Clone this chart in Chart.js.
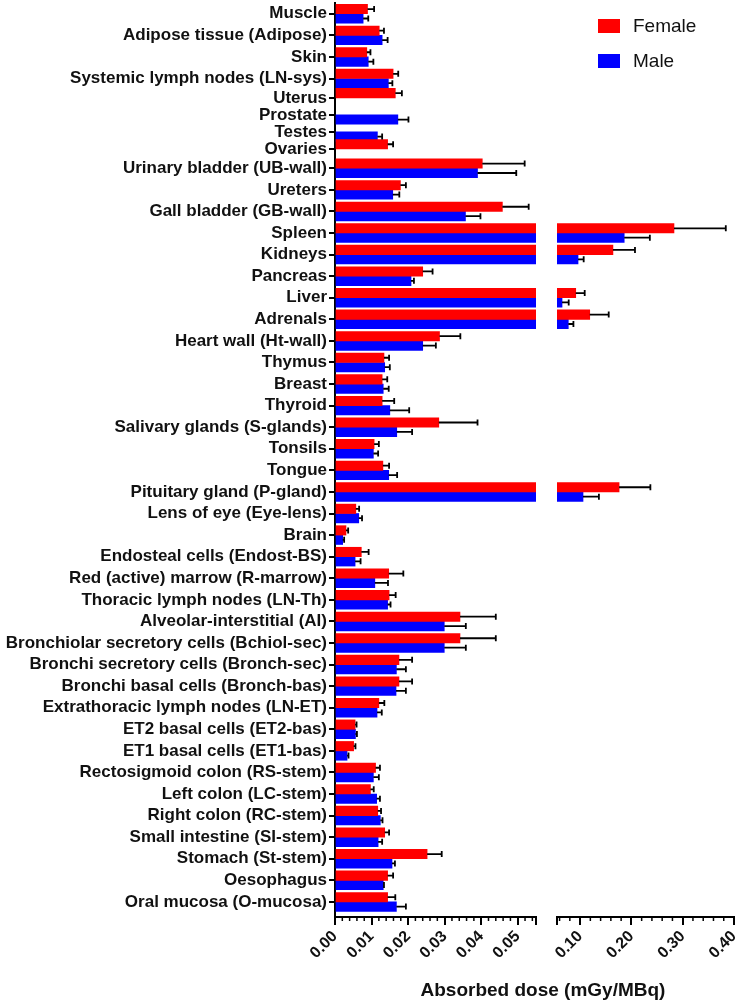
<!DOCTYPE html>
<html>
<head>
<meta charset="utf-8">
<script src="https://cdn.jsdelivr.net/npm/chart.js@4.4.1/dist/chart.umd.min.js"></script>
<style>
  body { margin: 0; background: #fff; font-family: "Liberation Sans", Arial, sans-serif; }
  #wrap { position: relative; width: 740px; height: 1001px; overflow: hidden; }
  #left { position: absolute; left: 0; top: 0; }
  #right { position: absolute; left: 551px; top: 0; }
  .sw { position: absolute; width: 22px; height: 14px; }
  .lg { position: absolute; font-size: 19px; line-height: 20px; color: #111; }
  #xtitle { position: absolute; left: 543px; top: 979px; transform: translateX(-50%);
            font-size: 19px; font-weight: bold; white-space: nowrap; color: #111; }
</style>
</head>
<body>
<div id="wrap">
  <canvas id="left" width="542" height="1001"></canvas>
  <canvas id="right" width="189" height="1001"></canvas>
  <div class="sw" style="left:598px;top:19px;background:#ff0000"></div>
  <div class="lg" id="lg0" style="left:633px;top:16px"></div>
  <div class="sw" style="left:598px;top:54px;background:#0000ff"></div>
  <div class="lg" id="lg1" style="left:633px;top:51px"></div>
  <div id="xtitle"></div>
</div>
<script>
// organ list, top to bottom
const categories = [
  'Muscle', 'Adipose tissue (Adipose)', 'Skin', 'Systemic lymph nodes (LN-sys)',
  'Uterus', 'Prostate', 'Testes', 'Ovaries',
  'Urinary bladder (UB-wall)', 'Ureters', 'Gall bladder (GB-wall)', 'Spleen',
  'Kidneys', 'Pancreas', 'Liver', 'Adrenals', 'Heart wall (Ht-wall)', 'Thymus',
  'Breast', 'Thyroid', 'Salivary glands (S-glands)', 'Tonsils', 'Tongue',
  'Pituitary gland (P-gland)', 'Lens of eye (Eye-lens)', 'Brain',
  'Endosteal cells (Endost-BS)', 'Red (active) marrow (R-marrow)',
  'Thoracic lymph nodes (LN-Th)', 'Alveolar-interstitial (AI)',
  'Bronchiolar secretory cells (Bchiol-sec)', 'Bronchi secretory cells (Bronch-sec)',
  'Bronchi basal cells (Bronch-bas)', 'Extrathoracic lymph nodes (LN-ET)',
  'ET2 basal cells (ET2-bas)', 'ET1 basal cells (ET1-bas)',
  'Rectosigmoid colon (RS-stem)', 'Left colon (LC-stem)', 'Right colon (RC-stem)',
  'Small intestine (SI-stem)', 'Stomach (St-stem)', 'Oesophagus', 'Oral mucosa (O-mucosa)'
];

const seriesNames = ['Female', 'Male'];

const female = [
  0.0089, 0.0121, 0.0087, 0.0159, 0.0165, null, null, 0.0144,
  0.0403, 0.0179, 0.0458, 0.283, 0.164, 0.0240, 0.0915, 0.1188,
  0.0286, 0.0134, 0.0129, 0.0129, 0.0284, 0.0107, 0.0131, 0.176,
  0.0057, 0.0030, 0.0072, 0.0147, 0.0148, 0.0342, 0.0342, 0.0175,
  0.0175, 0.0120, 0.0055, 0.0051, 0.0111, 0.0097, 0.0117, 0.0136,
  0.0252, 0.0144, 0.0144
];
const femaleErr = [
  0.0018, 0.0013, 0.0010, 0.0014, 0.0018, 0, 0, 0.0015,
  0.0116, 0.0015, 0.0072, 0.101, 0.043, 0.0027, 0.0175, 0.037,
  0.0057, 0.0014, 0.0014, 0.0033, 0.0106, 0.0013, 0.0017, 0.061,
  0.0009, 0.0006, 0.0020, 0.0040, 0.0018, 0.0098, 0.0098, 0.0036,
  0.0036, 0.0015, 0.0004, 0.0005, 0.0012, 0.0009, 0.0009, 0.0012,
  0.0040, 0.0015, 0.0021
];
const male = [
  0.0077, 0.0129, 0.0091, 0.0146, null, 0.0172, 0.0116, null,
  0.0390, 0.0158, 0.0357, 0.186, 0.096, 0.0208, 0.0648, 0.077,
  0.0240, 0.0136, 0.0132, 0.0150, 0.0169, 0.0105, 0.0147, 0.1057,
  0.0065, 0.0021, 0.0055, 0.0109, 0.0144, 0.0299, 0.0299, 0.0168,
  0.0167, 0.0115, 0.0056, 0.0033, 0.0105, 0.0114, 0.0124, 0.0118,
  0.0156, 0.0132, 0.0168
];
const maleErr = [
  0.0014, 0.0015, 0.0014, 0.0011, 0, 0.0029, 0.0013, 0,
  0.0106, 0.0018, 0.0041, 0.050, 0.011, 0.0008, 0.013, 0.010,
  0.0036, 0.0014, 0.0015, 0.0053, 0.0042, 0.0013, 0.0023, 0.031,
  0.0009, 0.0004, 0.0015, 0.0036, 0.0008, 0.0059, 0.0059, 0.0026,
  0.0027, 0.0013, 0.0004, 0.0004, 0.0015, 0.0009, 0.0006, 0.0011,
  0.0008, 0.0002, 0.0026
];

// broken x axis: two segments
const leftTicks = [0, 0.01, 0.02, 0.03, 0.04, 0.05];
const rightTicks = [0.1, 0.2, 0.3, 0.4];
const leftRange = [0, 0.055];
const rightRange = [0.055, 0.4];
const axisTitle = 'Absorbed dose (mGy/MBq)';

const FONT = "'Liberation Sans', Arial, sans-serif";

// rows with only one sex are drawn narrower, as in the original figure
const singleRowWeight = 0.79;
const rowPos = [];
let acc = 0;
categories.forEach((c, i) => {
  const w = (female[i] == null || male[i] == null) ? singleRowWeight : 1;
  rowPos.push(acc + w / 2);
  acc += w;
});
const rowMax = acc + 0.2;

document.getElementById('lg0').textContent = seriesNames[0];
document.getElementById('lg1').textContent = seriesNames[1];
document.getElementById('xtitle').textContent = axisTitle;

// one-sided error bars drawn to the right of each bar
const errorBars = {
  id: 'errorBars',
  afterDatasetsDraw(chart) {
    const ctx = chart.ctx;
    const xs = chart.scales.x;
    const a = chart.chartArea;
    ctx.save();
    ctx.beginPath();
    ctx.rect(a.left, a.top - 5, a.right - a.left + 2, a.bottom - a.top + 10);
    ctx.clip();
    ctx.strokeStyle = '#000';
    ctx.lineWidth = 1.8;
    chart.data.datasets.forEach((ds, i) => {
      chart.getDatasetMeta(i).data.forEach((bar, j) => {
        const v = ds.values[j], e = ds.errors[j];
        if (v == null || !e || v > xs.max || v < xs.min) return;
        const x0 = xs.getPixelForValue(v);
        const x1 = xs.getPixelForValue(v + e);
        ctx.beginPath();
        ctx.moveTo(x0, bar.y);
        ctx.lineTo(x1, bar.y);
        ctx.moveTo(x1, bar.y - 3);
        ctx.lineTo(x1, bar.y + 3);
        ctx.stroke();
      });
    });
    ctx.restore();
  }
};

// minor ticks and the end tick at the break
const axisMarks = {
  id: 'axisMarks',
  afterDraw(chart, args, opts) {
    const xs = chart.scales.x, ctx = chart.ctx, y0 = xs.top;
    ctx.save();
    ctx.strokeStyle = '#000';
    ctx.lineWidth = 1.5;
    const n = Math.round(xs.max / opts.step);
    for (let k = 0; k <= n; k++) {
      const v = k * opts.step;
      if (k % 5 === 0 || v < xs.min - 1e-9 || v > xs.max + 1e-9) continue;
      const x = xs.getPixelForValue(v);
      ctx.beginPath();
      ctx.moveTo(x, y0);
      ctx.lineTo(x, y0 + 4);
      ctx.stroke();
    }
    ctx.lineWidth = 2;
    opts.ends.forEach(v => {
      const x = xs.getPixelForValue(v);
      ctx.beginPath();
      ctx.moveTo(x, y0);
      ctx.lineTo(x, y0 + 8);
      ctx.stroke();
    });
    ctx.restore();
  }
};

const toPoints = vals => vals.map((v, i) => ({ x: v, y: rowPos[i] }));

function makeChart(id, range, ticks, showY, pad, marks) {
  return new Chart(document.getElementById(id), {
    type: 'bar',
    data: {
      datasets: [
        { label: seriesNames[0], data: toPoints(female), values: female, errors: femaleErr,
          backgroundColor: '#ff0000', barThickness: 9.4, clip: 0 },
        { label: seriesNames[1], data: toPoints(male), values: male, errors: maleErr,
          backgroundColor: '#0000ff', barThickness: 9.4, clip: 0 }
      ]
    },
    options: {
      indexAxis: 'y',
      responsive: false,
      animation: false,
      layout: { padding: pad },
      plugins: {
        legend: { display: false },
        tooltip: { enabled: false },
        axisMarks: marks
      },
      scales: {
        y: {
          type: 'linear',
          display: showY,
          reverse: true,
          offset: false,
          min: 0,
          max: rowMax,
          afterBuildTicks(s) { s.ticks = rowPos.map(v => ({ value: v })); },
          grid: { display: true, offset: false, drawOnChartArea: false, tickLength: 6, color: '#000', lineWidth: 2 },
          border: { display: true, color: '#000', width: 2 },
          ticks: {
            color: '#111', autoSkip: false, padding: 2,
            font: { family: FONT, size: 17, weight: 'bold' },
            callback: (v, i) => categories[i]
          },
          afterFit(s) {
            s.width = showY ? 335 : 0;
            s.paddingTop = 0;
            s.paddingBottom = 0;
          }
        },
        x: {
          type: 'linear',
          min: range[0],
          max: range[1],
          afterBuildTicks(s) { s.ticks = ticks.map(v => ({ value: v })); },
          grid: { drawOnChartArea: false, tickLength: 8, color: '#000', lineWidth: 2 },
          border: { display: true, color: '#000', width: 2 },
          ticks: {
            color: '#111', autoSkip: false, minRotation: 45, maxRotation: 45, padding: 2,
            font: { family: FONT, size: 16, weight: 'bold' },
            callback: v => v.toFixed(2)
          },
          afterFit(s) { s.height = 84; s.paddingLeft = 0; s.paddingRight = 0; }
        }
      }
    },
    plugins: [errorBars, axisMarks]
  });
}

makeChart('left', leftRange, leftTicks, true, { top: 3, right: 6, left: 0, bottom: 0 },
  { step: 0.002, ends: [leftRange[1]] });
makeChart('right', rightRange, rightTicks, false, { top: 3, right: 6, left: 6, bottom: 0 },
  { step: 0.02, ends: [rightRange[0]] });
</script>
</body>
</html>
